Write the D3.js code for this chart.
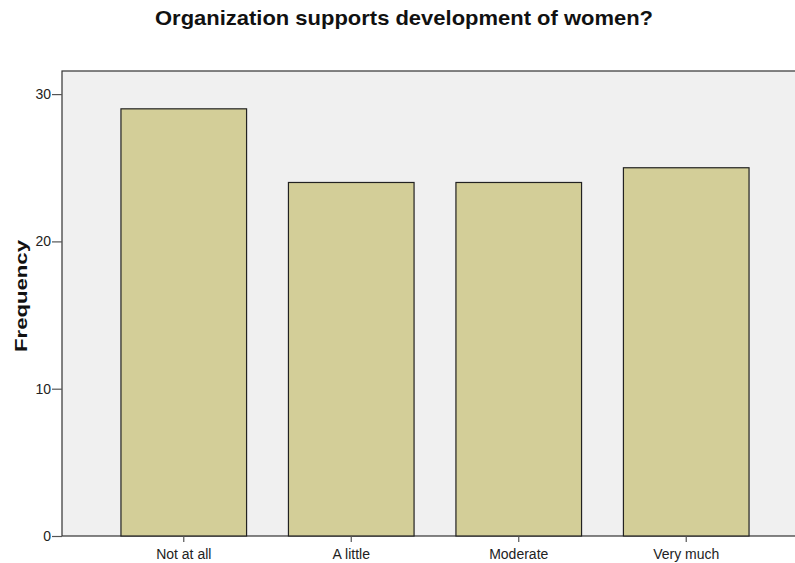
<!DOCTYPE html>
<html><head><meta charset="utf-8">
<script src="https://cdn.jsdelivr.net/npm/d3@7"></script>
<style>body{margin:0;background:#fff;} text{font-family:Arial,"Liberation Sans",sans-serif;}</style>
</head><body>
<svg id="c" width="795" height="563"></svg>
<script>
const categories = ["Not at all", "A little", "Moderate", "Very much"];
const frequencies = [29, 24, 24, 25];
const yTicks = [0, 10, 20, 30];
const title = "Organization supports development of women?";
const yLabel = "Frequency";

const svg = d3.select("#c");
const L = 62, T = 71, R = 808, B = 536;
const x = d3.scaleBand().domain(categories).range([L, R]).paddingInner(0.25).paddingOuter(0.352);
const y = d3.scaleLinear().domain([0, 10]).range([B, 388.7]);

svg.append("rect").attr("x", L).attr("y", T).attr("width", R - L).attr("height", B - T)
  .attr("fill", "#f0f0f0").attr("stroke", "#333").attr("stroke-width", 1.2);

svg.selectAll("rect.bar").data(frequencies).join("rect").attr("class", "bar")
  .attr("x", (d, i) => x(categories[i])).attr("width", x.bandwidth())
  .attr("y", d => y(d)).attr("height", d => B - y(d))
  .attr("fill", "#d3ce98").attr("stroke", "#222").attr("stroke-width", 1.2);

const ya = svg.append("g").attr("transform", `translate(${L},0)`)
  .call(d3.axisLeft(y).tickValues(yTicks).tickSize(10).tickPadding(1));
ya.select(".domain").remove();
ya.selectAll("line").attr("stroke", "#555").attr("stroke-width", 1.2);
ya.selectAll("text").attr("font-size", 14).attr("fill", "#222");

const xa = svg.append("g").attr("transform", `translate(0,${B})`)
  .call(d3.axisBottom(x).tickSize(6).tickPadding(7));
xa.select(".domain").remove();
xa.selectAll("line").attr("stroke", "#555").attr("stroke-width", 1.2);
xa.selectAll("text").attr("font-size", 14).attr("fill", "#222");

svg.append("text").attr("x", 404).attr("y", 25).attr("text-anchor", "middle")
  .attr("font-size", 21).attr("font-weight", "bold").attr("fill", "#111")
  .attr("textLength", 498).attr("lengthAdjust", "spacingAndGlyphs").text(title);

svg.append("text").attr("transform", "translate(27,296) rotate(-90)").attr("text-anchor", "middle")
  .attr("font-size", 17).attr("font-weight", "bold").attr("fill", "#111")
  .attr("textLength", 112).attr("lengthAdjust", "spacingAndGlyphs").text(yLabel);
</script>
</body></html>
